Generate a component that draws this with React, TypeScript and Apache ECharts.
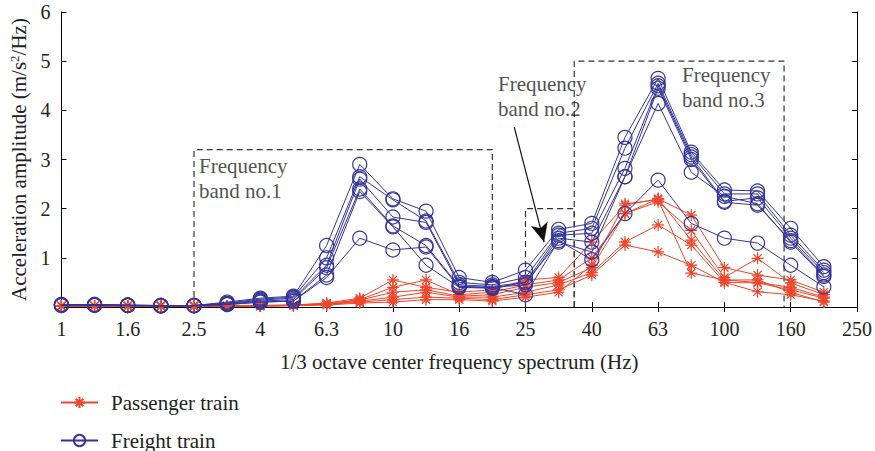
import React, { useEffect, useRef } from "react";
import * as echarts from "echarts";

// 1/3 octave band centre frequencies (Hz)
const freqLabels = [
  "1", "1.25", "1.6", "2", "2.5", "3.15", "4", "5", "6.3", "8", "10", "12.5",
  "16", "20", "25", "31.5", "40", "50", "63", "80", "100", "125", "160", "200", "250",
];

// Freight train measurements (m/s²/Hz), one array per record
const freight1 = [0.05, 0.05, 0.04, 0.03, 0.03, 0.1, 0.18, 0.22, 1.25, 2.9, 2.2, 1.95, 0.6, 0.5, 0.75, 1.58, 1.7, 3.45, 4.65, 3.15, 2.38, 2.36, 1.6, 0.82];
const freight2 = [0.05, 0.05, 0.04, 0.03, 0.03, 0.08, 0.16, 0.2, 1.0, 2.65, 2.18, 1.75, 0.5, 0.45, 0.6, 1.5, 1.6, 3.23, 4.55, 3.1, 2.3, 2.3, 1.46, 0.75];
const freight3 = [0.04, 0.04, 0.03, 0.03, 0.03, 0.07, 0.14, 0.18, 0.85, 2.6, 1.83, 1.72, 0.45, 0.42, 0.5, 1.46, 1.5, 2.82, 4.5, 3.05, 2.15, 2.22, 1.4, 0.7];
const freight4 = [0.04, 0.04, 0.03, 0.03, 0.03, 0.06, 0.12, 0.15, 0.8, 2.4, 1.65, 1.25, 0.42, 0.4, 0.45, 1.4, 1.32, 2.65, 4.45, 3.0, 2.13, 2.07, 1.35, 0.65];
const freight5 = [0.03, 0.04, 0.03, 0.02, 0.03, 0.05, 0.1, 0.12, 0.65, 2.35, 1.63, 0.85, 0.4, 0.38, 0.5, 1.32, 1.12, 2.65, 4.14, 2.74, 2.25, 2.1, 1.32, 0.62];
const freight6 = [0.03, 0.03, 0.03, 0.02, 0.02, 0.05, 0.1, 0.12, 0.6, 1.4, 1.16, 1.22, 0.4, 0.4, 0.25, 1.35, 0.96, 1.9, 2.58, 1.7, 1.4, 1.3, 0.85, 0.41];

// Passenger train measurements (m/s²/Hz)
const passenger1 = [0.02, 0.02, 0.02, 0.02, 0.02, 0.02, 0.03, 0.04, 0.08, 0.18, 0.55, 0.4, 0.3, 0.35, 0.55, 0.6, 1.32, 2.07, 2.2, 1.87, 0.8, 0.65, 0.55, 0.3];
const passenger2 = [0.02, 0.02, 0.02, 0.02, 0.02, 0.02, 0.03, 0.04, 0.07, 0.15, 0.4, 0.55, 0.25, 0.3, 0.45, 0.55, 1.0, 1.9, 2.14, 1.56, 0.6, 0.99, 0.49, 0.25];
const passenger3 = [0.02, 0.02, 0.02, 0.02, 0.02, 0.02, 0.02, 0.03, 0.06, 0.14, 0.3, 0.35, 0.22, 0.25, 0.4, 0.5, 0.8, 1.9, 2.2, 1.36, 0.55, 0.5, 0.4, 0.2];
const passenger4 = [0.02, 0.02, 0.02, 0.02, 0.02, 0.02, 0.02, 0.03, 0.05, 0.12, 0.2, 0.3, 0.2, 0.2, 0.3, 0.45, 0.7, 1.32, 1.67, 1.26, 0.5, 0.49, 0.35, 0.18];
const passenger5 = [0.02, 0.02, 0.02, 0.02, 0.02, 0.02, 0.02, 0.03, 0.05, 0.1, 0.15, 0.2, 0.18, 0.15, 0.25, 0.35, 0.65, 1.26, 1.12, 0.85, 0.5, 0.31, 0.25, 0.12];
const passenger6 = [0.02, 0.02, 0.02, 0.02, 0.02, 0.02, 0.02, 0.03, 0.04, 0.08, 0.1, 0.15, 0.15, 0.12, 0.2, 0.3, 0.85, 2.1, 2.18, 0.69, 0.55, 0.55, 0.3, 0.1];

const freightSeries = [freight1, freight2, freight3, freight4, freight5, freight6];
const passengerSeries = [passenger1, passenger2, passenger3, passenger4, passenger5, passenger6];

// Y-axis tick labels
const yTicks = ["", "1", "2", "3", "4", "5", "6"];

// Frequency-band outlines, in (band index, amplitude) units
const band1 = [[4, 0], [4, 3.2], [13, 3.2], [13, 0]];
const band2 = [[14, 0], [14, 2], [15.47, 2], [15.47, 0]];
const band3 = [[15.47, 0], [15.47, 5], [21.8, 5], [21.8, 0]];

// Band captions: [band index, amplitude, text, alignment]
const captions: [number, number, string, string][] = [
  [4.15, 3.12, "Frequency\nband no.1", "left"],
  [13.17, 4.8, "Frequency\nband no.2", "center"],
  [18.72, 4.98, "Frequency\nband no.3", "left"],
];
// Arrow pointing at band 2
const arrowFrom = [13.66, 3.66];
const arrowTo = [14.56, 1.32];

const RED = "#f0462a";
const BLUE = "#34349c";
const FONT = "'Liberation Serif', 'DejaVu Serif', serif";
const ASTERISK =
  "path://M5 0 L5 10 M0 5 L10 5 M1.6 1.6 L8.4 8.4 M1.6 8.4 L8.4 1.6";

export default function App() {
  const ref = useRef<HTMLDivElement>(null);

  useEffect(() => {
    if (!ref.current) return;
    const chart = echarts.init(ref.current, undefined, { renderer: "svg" });

    const boxSeries = [band1, band2, band3].map((b) => ({
      type: "line",
      xAxisIndex: 2,
      yAxisIndex: 0,
      data: b,
      symbol: "none",
      silent: true,
      z: 1,
      lineStyle: { color: "#333", width: 1.2, type: [6, 4] },
    }));

    const option: any = {
      animation: false,
      backgroundColor: "#fff",
      textStyle: { fontFamily: FONT },
      grid: { left: 60, right: 18, top: 12, bottom: 144, containLabel: false },
      legend: {
        orient: "vertical",
        left: 60,
        top: 392,
        height: 80,
        padding: 0,
        itemWidth: 37,
        itemHeight: 14,
        itemGap: 17,
        data: ["Passenger train", "Freight train"],
        textStyle: { fontFamily: FONT, fontSize: 21, color: "#222", padding: [0, 0, 0, 8] },
      },
      xAxis: [
        {
          type: "category",
          data: freqLabels,
          boundaryGap: false,
          position: "bottom",
          axisLine: { lineStyle: { color: "#000", width: 1.2 } },
          axisTick: { inside: true, interval: 1, length: 5, lineStyle: { color: "#000" } },
          axisLabel: { interval: 1, color: "#222", fontSize: 20, fontFamily: FONT, margin: 12 },
          splitLine: { show: false },
          name: "1/3 octave center frequency spectrum (Hz)",
          nameLocation: "middle",
          nameGap: 44,
          nameTextStyle: { fontSize: 21, color: "#222", fontFamily: FONT },
        },
        {
          type: "category",
          data: freqLabels,
          boundaryGap: false,
          position: "top",
          axisLine: { lineStyle: { color: "#000", width: 1 } },
          axisTick: { inside: true, interval: 1, length: 5, lineStyle: { color: "#000" } },
          axisLabel: { show: false },
          splitLine: { show: false },
        },
        { type: "value", min: 0, max: 24, show: false },
      ],
      yAxis: [
        {
          type: "value",
          min: 0,
          max: 6,
          interval: 1,
          axisLine: { show: true, lineStyle: { color: "#000", width: 1 } },
          axisTick: { show: true, inside: true, length: 5, lineStyle: { color: "#000" } },
          axisLabel: {
            color: "#222",
            fontSize: 20,
            fontFamily: FONT,
            margin: 11,
            formatter: (v: number) => yTicks[Math.round(v)] ?? "",
          },
          splitLine: { show: false },
          name: "Acceleration amplitude (m/s{sup|2}/Hz)",
          nameLocation: "middle",
          nameGap: 25,
          nameTextStyle: {
            fontSize: 21,
            color: "#222",
            fontFamily: FONT,
            rich: { sup: { fontSize: 13, verticalAlign: "top", padding: [0, 0, 9, 0], color: "#222", fontFamily: FONT } },
          },
        },
        {
          type: "value",
          min: 0,
          max: 6,
          interval: 1,
          position: "right",
          axisLine: { show: true, lineStyle: { color: "#000", width: 1 } },
          axisTick: { show: true, inside: true, length: 5, lineStyle: { color: "#000" } },
          axisLabel: { show: false },
          splitLine: { show: false },
        },
      ],
      series: [
        ...boxSeries,
        ...passengerSeries.map((d) => ({
          name: "Passenger train",
          type: "line",
          data: d,
          symbol: ASTERISK,
          symbolSize: 12,
          z: 3,
          lineStyle: { color: RED, width: 1 },
          itemStyle: { color: RED, borderColor: RED, borderWidth: 1.2 },
        })),
        ...freightSeries.map((d) => ({
          name: "Freight train",
          type: "line",
          data: d,
          symbol: "circle",
          symbolSize: 14,
          z: 4,
          lineStyle: { color: BLUE, width: 1 },
          itemStyle: { color: "rgba(0,0,0,0)", borderColor: BLUE, borderWidth: 1.2 },
        })),
        {
          type: "scatter",
          xAxisIndex: 2,
          data: captions.map((c) => [c[0], c[1]]),
          symbolSize: 0,
          silent: true,
          z: 5,
          label: {
            show: true,
            position: "inside",
            formatter: (p: any) => captions[p.dataIndex][2],
            align: "left",
            verticalAlign: "top",
            fontSize: 21,
            lineHeight: 25,
            color: "#222",
            fontFamily: FONT,
          },
          labelLayout: (p: any) => {
            const c = captions[p.dataIndex];
            return c[3] === "center" ? { dx: -p.rect.width / 2 } : {};
          },
          markLine: {
            silent: true,
            symbol: ["none", "arrow"],
            symbolSize: [13, 19],
            label: { show: false },
            lineStyle: { color: "#111", width: 1.2, type: "solid" },
            data: [[{ coord: arrowFrom }, { coord: arrowTo }]],
          },
        },
      ],
    };

    chart.setOption(option);
    return () => chart.dispose();
  }, []);

  return (
    <div
      ref={ref}
      style={{ position: "fixed", left: 0, top: 0, width: 875, height: 451, background: "#fff" }}
    />
  );
}
